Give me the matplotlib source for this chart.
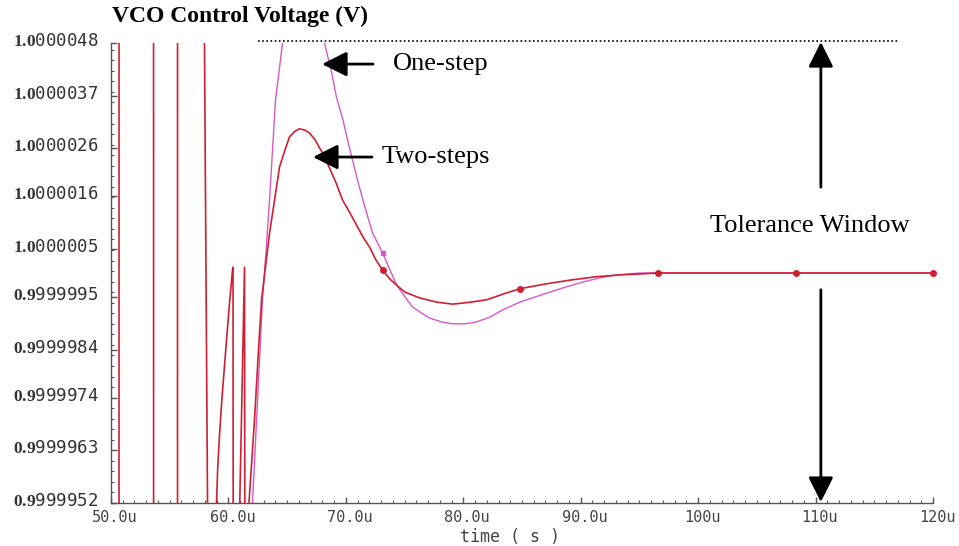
import matplotlib
matplotlib.use('Agg')
import matplotlib.pyplot as plt
import matplotlib.transforms as mtransforms
from matplotlib.ticker import AutoMinorLocator, MultipleLocator
import numpy as np

# ===================== waveform data (time in us, deviation from 1 V in uV) =====================
# Two-steps: early switching spikes are clipped by the axis limits
two_t = [50.0, 50.68, 50.69, 53.62, 53.63, 55.66, 55.67, 57.90, 58.28, 58.90,
         58.99, 59.08, 59.25, 59.42, 59.75, 60.09, 60.35, 60.39, 60.45, 60.90,
         61.37, 61.47, 61.65, 61.75, 62.22, 62.56, 62.82, 63.5, 63.97, 64.35,
         64.82, 65.2, 65.67, 66.06, 66.52, 66.91, 67.38, 67.76, 68.23, 68.61,
         69.17, 69.72, 70.36, 70.91, 71.46, 72.02, 72.57, 73.13, 73.76, 74.4,
         75.04, 76.28, 77.77, 79.09, 80.58, 81.98, 83.39, 84.79, 86.97, 89.05,
         91.23, 93.31, 95.06, 96.54, 100.1, 108.3, 120.0]
two_dev = [-20, -20, 20, 20, -20, -20, 20, 7.0, -7.0, -5.5,
           -4.8, -4.11, -3.35, -2.71, -1.67, -0.63, 0.06, 0.12, -20, -5.6,
           0.12, -20, -5.5, -4.8, -3.07, -1.61, -0.56, 0.83, 1.59, 2.21,
           2.57, 2.84, 2.96, 3.01, 2.98, 2.92, 2.78, 2.61, 2.42, 2.19,
           1.88, 1.52, 1.25, 1.0, 0.75, 0.54, 0.27, 0.06, -0.13, -0.27,
           -0.40, -0.52, -0.61, -0.65, -0.61, -0.56, -0.44, -0.33, -0.23, -0.15,
           -0.08, -0.04, -0.02, 0.0, 0.0, 0.0, 0.0]
two_marker_t = [73.13, 84.79, 96.54, 108.3, 120.0]

# One-step: overshoots beyond the plotted window
one_t = [61.9, 62.05, 62.48, 62.9, 63.2, 63.5, 64.01, 64.61, 65.2, 65.8,
         66.4, 67.0, 67.59, 68.18, 68.74, 69.2, 69.76, 70.14, 70.57, 70.99,
         71.46, 71.89, 72.28, 72.74, 73.13, 73.76, 74.32, 75.04, 75.68, 76.41,
         77.13, 78.11, 79.09, 80.15, 81.13, 82.28, 83.35, 84.79, 86.12, 87.35,
         88.76, 90.16, 91.65, 93.06, 95.02, 96.54, 120.0]
one_dev = [-6.0, -4.8, -2.65, -0.56, 0.45, 1.52, 3.61, 4.8, 5.49, 5.86,
           5.95, 5.8, 5.38, 4.8, 4.24, 3.67, 3.19, 2.78, 2.36, 1.94,
           1.52, 1.15, 0.83, 0.61, 0.42, 0.06, -0.25, -0.50, -0.71, -0.83,
           -0.94, -1.02, -1.06, -1.06, -1.02, -0.92, -0.77, -0.61, -0.50, -0.40,
           -0.29, -0.19, -0.10, -0.04, 0.0, 0.0, 0.0]
one_marker_t = [73.13]

# axis ticks
y_ticks = [0.9999952, 0.9999963, 0.9999974, 0.9999984, 0.9999995,
           1.0000005, 1.0000016, 1.0000026, 1.0000037, 1.0000048]
y_ticklabels = [r'$\mathbf{0.9}$999952', r'$\mathbf{0.9}$999963', r'$\mathbf{0.9}$999974',
                r'$\mathbf{0.9}$999984', r'$\mathbf{0.9}$999995', r'$\mathbf{1.0}$000005',
                r'$\mathbf{1.0}$000016', r'$\mathbf{1.0}$000026', r'$\mathbf{1.0}$000037',
                r'$\mathbf{1.0}$000048']
x_ticks = [50, 60, 70, 80, 90, 100, 110, 120]
x_ticklabels = ['50.0u', '60.0u', '70.0u', '80.0u', '90.0u', '100u', '110u', '120u']

# tolerance window (dotted upper limit)
tol_top = 1.00000485
tol_start, tol_end = 62.52, 117.04

# ===================== plot settings =====================
plt.rcParams['mathtext.fontset'] = 'custom'
plt.rcParams['mathtext.bf'] = 'Liberation Serif:bold'
plt.rcParams['mathtext.rm'] = 'Liberation Serif'

red = '#d01f32'
magenta = '#d659c6'
axis_gray = '#555555'

fig = plt.figure(figsize=(9.59, 5.46), dpi=100)
ax = fig.add_axes([111 / 959, 1 - 503 / 546, 822 / 959, 460 / 546])

two_v = 1.0 + np.array(two_dev) * 1e-6
one_v = 1.0 + np.array(one_dev) * 1e-6
two_mk = [i for i, t in enumerate(two_t) if t in two_marker_t]
one_mk = [i for i, t in enumerate(one_t) if t in one_marker_t]

ax.plot(one_t, one_v, color=magenta, lw=1.0, zorder=2)
ax.plot(two_t, two_v, color=red, lw=1.2, zorder=3)
# markers (not clipped, so the one at 120u shows whole)
ax.plot(np.array(one_t)[one_mk], one_v[one_mk], 's', color=magenta, ms=3,
        clip_on=False, zorder=2)
ax.plot(np.array(two_t)[two_mk], two_v[two_mk], 'o', color=red, ms=4,
        clip_on=False, zorder=3)

ax.hlines(tol_top, tol_start, tol_end, colors='black', linestyles=(0, (1, 1.5)),
          lw=1.2, clip_on=False)

ax.set_xlim(50, 120)
ax.set_ylim(0.9999952, 1.0000048)

# ===================== axes look =====================
for side in ['top', 'right']:
    ax.spines[side].set_visible(False)
for side in ['left', 'bottom']:
    ax.spines[side].set_color(axis_gray)
    ax.spines[side].set_linewidth(1.0)

ax.set_xticks(x_ticks)
ax.set_xticklabels(x_ticklabels, family='DejaVu Sans Mono', fontsize=11, color='#444444')
ax.xaxis.set_minor_locator(MultipleLocator(1))
ax.set_yticks(y_ticks)
ax.set_yticklabels(y_ticklabels, family='DejaVu Sans Mono', fontsize=12.5, color='#333333')
ax.yaxis.set_minor_locator(AutoMinorLocator(5))

ax.tick_params(which='major', direction='in', length=4.5, width=1, color=axis_gray)
ax.tick_params(which='minor', direction='in', length=2.2, width=0.8, color=axis_gray)
ax.tick_params(axis='y', pad=9)
ax.tick_params(axis='x', pad=5)

shift_y = mtransforms.ScaledTranslation(0, 4 / 100, fig.dpi_scale_trans)
for lbl in ax.get_yticklabels():
    lbl.set_transform(lbl.get_transform() + shift_y)
shift_x = mtransforms.ScaledTranslation(4 / 100, 0, fig.dpi_scale_trans)
for lbl in ax.get_xticklabels():
    lbl.set_transform(lbl.get_transform() + shift_x)

ax.set_xlabel('time ( s )', family='DejaVu Sans Mono', fontsize=12, color='#444444',
              labelpad=0)
ax.xaxis.set_label_coords(0.485, -0.055)

fig.text(112 / 959, 1 - 16 / 546, 'VCO Control Voltage (V)', family='Liberation Serif',
         fontweight='bold', fontsize=17, va='center', ha='left')

# ===================== annotations =====================
serif = dict(family='Liberation Serif', fontsize=19, color='black')
head = dict(arrowstyle='-|>,head_length=0.8,head_width=0.4', mutation_scale=19,
            color='black', lw=2, shrinkA=0, shrinkB=0)

ax.annotate('', xy=(67.97, 1.00000436), xytext=(72.32, 1.00000436),
            arrowprops=head, annotation_clip=False)
ax.text(74.0, 1.00000436, 'One-step', va='center', ha='left', **serif)

ax.annotate('', xy=(67.2, 1.00000242), xytext=(72.23, 1.00000242),
            arrowprops=head, annotation_clip=False)
ax.text(73.0, 1.00000242, 'Two-steps', va='center', ha='left', **serif)

ax.annotate('', xy=(110.45, 1.00000482), xytext=(110.45, 1.00000179),
            arrowprops=head, annotation_clip=False)
ax.annotate('', xy=(110.45, 0.99999522), xytext=(110.45, 0.99999965),
            arrowprops=head, annotation_clip=False)
ax.text(101.0, 1.00000098, 'Tolerance Window', va='center', ha='left', **serif)

fig.savefig('out.png', dpi=100)
